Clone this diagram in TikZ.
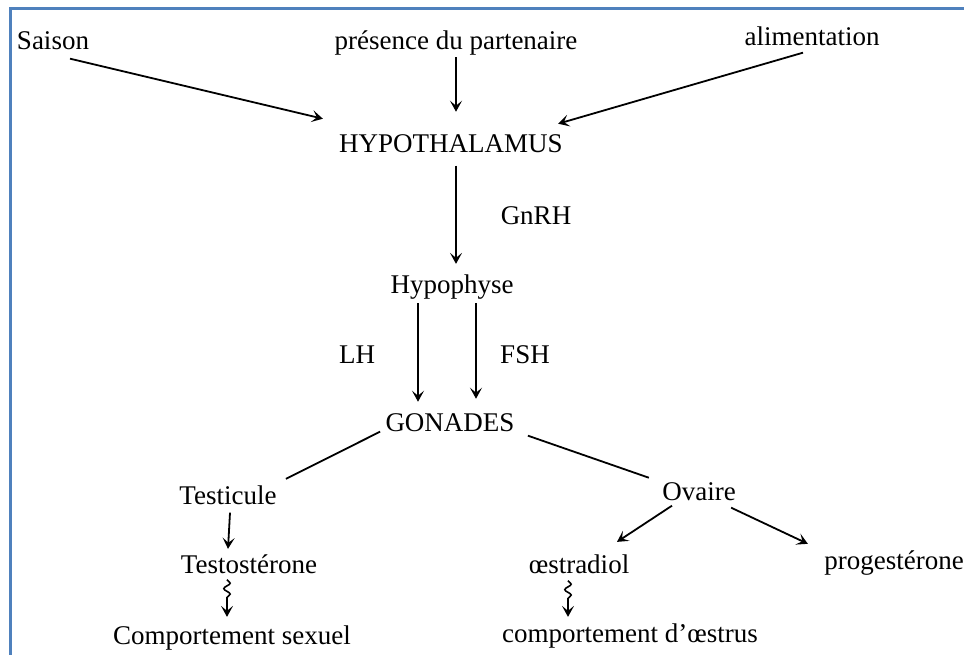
\documentclass[tikz,border=0pt]{standalone}
\usepackage{fontspec}
\setmainfont{Liberation Serif}
\usetikzlibrary{arrows.meta,calc,decorations.pathmorphing}

\definecolor{bordbleu}{RGB}{79,129,189}

\tikzset{
  txt/.style={anchor=base, inner sep=1pt, font=\fontsize{13.5}{16}\selectfont},
  fl/.style={-{Stealth[length=5.5pt,width=6pt,inset=2.5pt]}, line width=0.9pt},
  trait/.style={line width=0.9pt},
  ondule/.style={-{Stealth[length=5.5pt,width=6pt,inset=2.5pt]}, line width=0.8pt, decorate,
    decoration={snake, amplitude=1.6pt, segment length=5.5pt, post length=7pt}}
}

\begin{document}
\begin{tikzpicture}[x=0.5pt,y=-0.5pt]
  \useasboundingbox (0,0) rectangle (964,655);
  \draw[bordbleu, line width=1.5pt] (964,8.5) -- (10.5,8.5) -- (10.5,655);

  % facteurs externes
  \node[txt] (saison) at (53,49) {Saison};
  \node[txt] (presence) at (456,49) {présence du partenaire};
  \node[txt] (alim) at (812,45) {alimentation};

  % axe hypothalamo-hypophysaire
  \node[txt] (hypo) at (451,152) {HYPOTHALAMUS};
  \node[txt] (gnrh) at (536,224) {GnRH};
  \node[txt] (hypoph) at (452,293) {Hypophyse};
  \node[txt] (lh) at (357,363) {LH};
  \node[txt] (fsh) at (525,363) {FSH};
  \node[txt] (gonades) at (450,431) {GONADES};

  % male / femelle
  \node[txt] (testi) at (228,504) {Testicule};
  \node[txt] (ovaire) at (699,500) {Ovaire};
  \node[txt] (testo) at (249,573) {Testostérone};
  \node[txt] (oestra) at (579,573) {œstradiol};
  \node[txt] (proges) at (894,569) {progestérone};
  \node[txt] (compS) at (232,644) {Comportement sexuel};
  \node[txt] (compO) at (630,642) {comportement d’œstrus};

  \draw[fl] ($(saison.south)+(17,7)$) -- ($(hypo.north west)+(-14,-13)$);
  \draw[fl] (presence.south) -- ($(presence.south |- hypo.north)+(0,-20)$);
  \draw[fl] ($(alim.south)+(-9,5)$) -- ($(hypo.north east)+(-7,-8)$);
  \draw[fl] ($(hypo.south)+(5,11)$) -- ($(hypoph.north)+(4,-8)$);
  \draw[fl] ($(hypoph.south)+(-34,2)$) -- ($(gonades.north)+(-32,-9)$);
  \draw[fl] ($(hypoph.south)+(24,2)$) -- ($(gonades.north)+(26,-12)$);

  \draw[trait] ($(gonades.south west)+(-3,-2)$) -- ($(testi.north east)+(7,-4)$);
  \draw[trait] ($(gonades.south east)+(11,2)$) -- ($(ovaire.north west)+(-11,-2)$);

  \draw[fl] ($(testi.south)+(2,6)$) -- ($(testo.north)+(-21,-3)$);
  \draw[fl] ($(ovaire.south)+(-27,3)$) -- ($(oestra.north)+(38,-10)$);
  \draw[fl] ($(ovaire.south east)+(-7,5)$) -- ($(proges.north west)+(-14,-4)$);

  \draw[ondule] ($(testo.south)+(-22,4)$) -- ($(compS.north)+(-5,-6)$);
  \draw[ondule] ($(oestra.south)+(-11,5)$) -- ($(compO.north)+(-62,-4)$);
\end{tikzpicture}
\end{document}
